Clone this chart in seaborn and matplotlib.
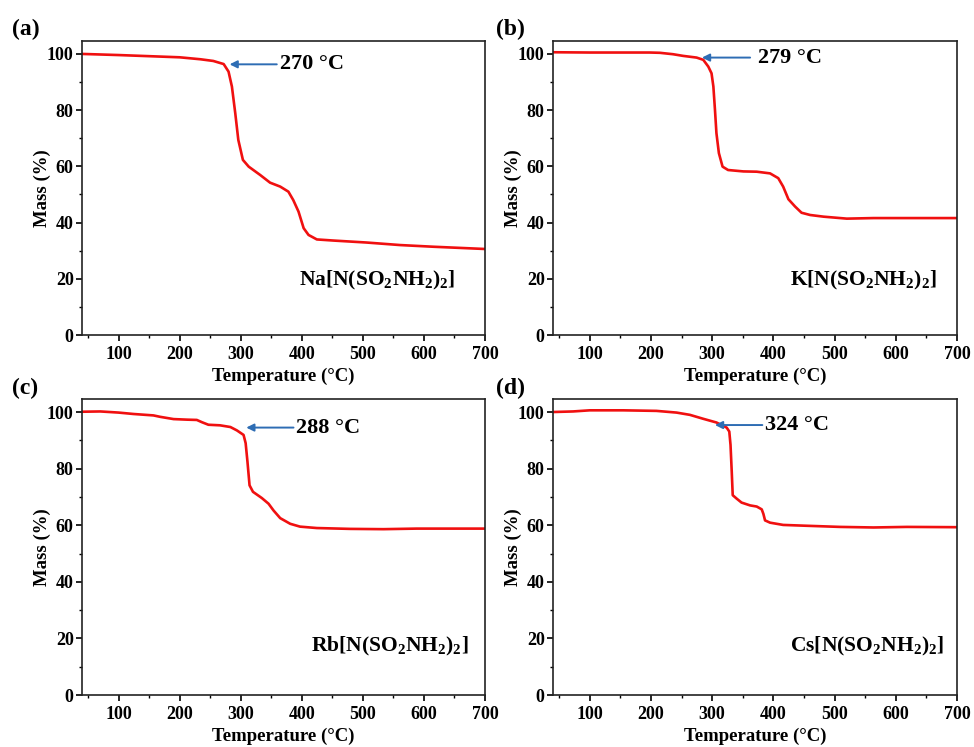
import matplotlib
matplotlib.use("Agg")
import matplotlib.pyplot as plt
import seaborn as sns
import pandas as pd
from matplotlib.ticker import MultipleLocator

sns.set_theme(style="ticks")
plt.rcParams['font.family'] = ['Liberation Serif', 'DejaVu Serif']
plt.rcParams['font.weight'] = 'bold'
plt.rcParams['text.color'] = 'black'
plt.rcParams['axes.labelcolor'] = 'black'
plt.rcParams['xtick.color'] = 'black'
plt.rcParams['ytick.color'] = 'black'
plt.rcParams['mathtext.fontset'] = 'custom'
plt.rcParams['mathtext.rm'] = 'Liberation Serif:bold'
plt.rcParams['mathtext.bf'] = 'Liberation Serif:bold'
plt.rcParams['mathtext.it'] = 'Liberation Serif:bold'
plt.rcParams['mathtext.default'] = 'bf'

# ---- data ----
na_T = [40, 100, 200, 234, 255, 272, 280, 285.5, 291, 296, 303.5, 313, 332, 348, 364.6, 378, 386, 394.6, 403, 411, 424.6, 452, 506, 561, 615.5, 700]
na_M = [100, 99.6, 98.8, 98.1, 97.5, 96.4, 93.7, 88.4, 78.9, 69.4, 62.3, 59.9, 56.9, 54.2, 52.8, 51, 48, 43.9, 38, 35.6, 34, 33.6, 32.9, 32, 31.4, 30.6]

k_T = [40, 100, 198, 214.6, 236, 252.7, 274.6, 285.5, 293.7, 299, 302, 304.6, 307, 311, 317, 326, 351, 372.8, 394.6, 408, 416, 424.6, 435.5, 446, 460, 482, 520, 563.7, 618, 700]
k_M = [100.6, 100.5, 100.5, 100.4, 99.9, 99.3, 98.7, 97.9, 95.5, 93.1, 88.4, 80.1, 71.8, 64.7, 59.9, 58.7, 58.2, 58.1, 57.5, 55.8, 52.8, 48.3, 45.7, 43.5, 42.7, 42.1, 41.4, 41.6, 41.6, 41.6]

rb_T = [40, 70, 100, 124.5, 157, 168, 190, 212, 228, 236.4, 247, 266, 283, 293.7, 304.6, 308, 311, 314.4, 320, 334.5, 345.5, 353.7, 364.6, 381, 397, 424.6, 479, 533.6, 588, 700]
rb_M = [100.1, 100.2, 99.8, 99.3, 98.8, 98.3, 97.5, 97.3, 97.2, 96.4, 95.5, 95.3, 94.7, 93.5, 91.9, 89, 82.4, 74.1, 71.8, 69.6, 67.6, 65.2, 62.5, 60.5, 59.5, 59, 58.7, 58.6, 58.8, 58.8]

cs_T = [40, 72.7, 100, 154.5, 209, 241.8, 263.6, 285.5, 307, 323.7, 328, 330, 332, 333.6, 340, 348, 362, 372.8, 381, 383.7, 386.4, 394.6, 416, 454.6, 509, 563.7, 618, 700]
cs_M = [100, 100.2, 100.6, 100.6, 100.4, 99.8, 99, 97.6, 96.3, 94.5, 93.1, 88.4, 78.9, 70.6, 69.4, 68, 67, 66.6, 65.6, 64, 61.7, 60.9, 60.1, 59.8, 59.4, 59.2, 59.4, 59.3]

panel_letters = ['(a)', '(b)', '(c)', '(d)']
compounds = [r'Na[N(SO$_2$NH$_2$)$_2$]', r'K[N(SO$_2$NH$_2$)$_2$]',
             r'Rb[N(SO$_2$NH$_2$)$_2$]', r'Cs[N(SO$_2$NH$_2$)$_2$]']
onset_labels = ['270 °C', '279 °C', '288 °C', '324 °C']
# arrow head (T, mass) and tail T
arrow_head_T = [281.7, 283.3, 309, 304.6]
arrow_tail_T = [359, 362, 386.4, 382]
arrow_M = [96.3, 98.7, 94.5, 95.4]
text_T = [363.5, 374.4, 390.8, 386.4]

curves = [(na_T, na_M), (k_T, k_M), (rb_T, rb_M), (cs_T, cs_M)]

fig = plt.figure(figsize=(9.74, 7.47), dpi=100)
positions = [
    (82/974, 1-335/747, 403/974, 294/747),
    (553/974, 1-335/747, 404/974, 294/747),
    (82/974, 1-695/747, 403/974, 296/747),
    (553/974, 1-695/747, 404/974, 296/747),
]
comp_pos = [(0.926, 0.187), (0.950, 0.187), (0.959, 0.164), (0.968, 0.164)]
letter_pos = [(12, 29), (496, 29), (12, 388), (496, 388)]

for i in range(4):
    ax = fig.add_axes(positions[i])
    T, M = curves[i]
    df = pd.DataFrame({'T': T, 'M': M})
    sns.lineplot(data=df, x='T', y='M', ax=ax, color='#f01010', linewidth=1.9,
                 estimator=None, sort=False)
    ax.set_xlim(40, 700)
    ax.set_ylim(0, 104.6)
    ax.xaxis.set_major_locator(MultipleLocator(100))
    ax.xaxis.set_minor_locator(MultipleLocator(50))
    ax.yaxis.set_major_locator(MultipleLocator(20))
    ax.yaxis.set_minor_locator(MultipleLocator(10))
    ax.tick_params(which='major', direction='out', length=4, width=1.2, labelsize=13, color='black')
    ax.tick_params(axis='x', which='major', pad=4)
    ax.tick_params(axis='y', which='major', pad=2)
    ax.tick_params(which='minor', direction='out', length=2.5, width=1.0, color='black')
    for lab in ax.get_xticklabels() + ax.get_yticklabels():
        lab.set_fontweight('bold')
    for s in ax.spines.values():
        s.set_linewidth(1.2)
        s.set_color('#222222')
        s.set_visible(True)
    ax.set_xlabel('Temperature (°C)', fontsize=13.5, fontweight='bold', labelpad=3)
    ax.set_ylabel('Mass (%)', fontsize=13.5, fontweight='bold', labelpad=-3)
    ax.annotate('', xy=(arrow_head_T[i], arrow_M[i]), xytext=(arrow_tail_T[i], arrow_M[i]),
                arrowprops=dict(arrowstyle='-|>', color='#2e6db4', lw=1.4,
                                mutation_scale=11, shrinkA=0, shrinkB=0))
    ax.text(text_T[i], arrow_M[i], onset_labels[i], fontsize=16, fontweight='bold',
            ha='left', va='center')
    ax.text(comp_pos[i][0], comp_pos[i][1], compounds[i], transform=ax.transAxes,
            fontsize=15.5, fontweight='bold', ha='right', va='center')
    fig.text(letter_pos[i][0]/974, 1-letter_pos[i][1]/747, panel_letters[i],
             fontsize=17, fontweight='bold', ha='left', va='center')

fig.savefig('out.png', dpi=100)
